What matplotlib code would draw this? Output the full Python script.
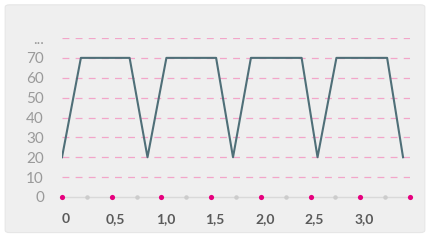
import matplotlib.pyplot as plt
import matplotlib.transforms as mtransforms
from matplotlib.patches import FancyBboxPatch
import numpy as np

# data
x_vals = [0, 0.19, 0.68, 0.86, 1.05, 1.55, 1.72, 1.90, 2.41, 2.57, 2.76, 3.27, 3.43]
y_vals = [20, 70, 70, 20, 70, 70, 20, 70, 70, 20, 70, 70, 20]
y_ticks = [0, 10, 20, 30, 40, 50, 60, 70, 80]
y_labels = ["0", "10", "20", "30", "40", "50", "60", "70", "..."]
x_ticks = [0, 0.5, 1.0, 1.5, 2.0, 2.5, 3.0, 3.5]
x_labels = ["0", "0,5", "1,0", "1,5", "2,0", "2,5", "3,0", ""]
x_minor = [0.25, 0.75, 1.25, 1.75, 2.25, 2.75, 3.25]

fig = plt.figure(figsize=(4.3, 2.41), dpi=100)
fig.patch.set_facecolor("white")
card = FancyBboxPatch((0.012, 0.035), 0.976, 0.945, boxstyle="round,pad=0,rounding_size=0.01",
                      transform=fig.transFigure, facecolor="#efefef", edgecolor="#e6e6e6", lw=0.8,
                      zorder=-10)
fig.patches.append(card)

ax = fig.add_axes([62 / 430, 44 / 241, 348 / 430, 159 / 241])
ax.set_facecolor("none")
ax.set_xlim(0, 3.5)
ax.set_ylim(0, 80)
for s in ax.spines.values():
    s.set_visible(False)

# dashed pink grid
for yv in y_ticks[1:]:
    ax.hlines(yv, 0, 3.5, colors="#f2a6c9", linestyles=(0, (5.5, 5)), lw=0.9, zorder=1)

# baseline with dots
ax.hlines(0, 0, 3.5, colors="#d9d9d9", lw=1.0, zorder=2, clip_on=False)
ax.scatter(x_minor, [0] * len(x_minor), s=5, color="#cccccc", zorder=3, clip_on=False)
ax.scatter(x_ticks, [0] * len(x_ticks), s=14, color="#e6007e", zorder=4, clip_on=False, lw=0)

ax.plot(x_vals, y_vals, color="#4f6f78", lw=1.5, zorder=5)

ax.set_xticks([])
ax.set_yticks(y_ticks)
ax.set_yticklabels(y_labels, fontfamily="Lato", fontsize=11, color="#9a9a9a")
ax.tick_params(axis="y", length=0, pad=13)

off = mtransforms.ScaledTranslation(4 / 100, 0, fig.dpi_scale_trans)
for xv, lab in zip(x_ticks, x_labels):
    ax.text(xv, -11, lab, transform=ax.transData + off, ha="center", va="center",
            fontfamily="Lato", fontweight="bold", fontsize=10, color="#5a5a5a", clip_on=False)

fig.savefig("out.png", dpi=100)
